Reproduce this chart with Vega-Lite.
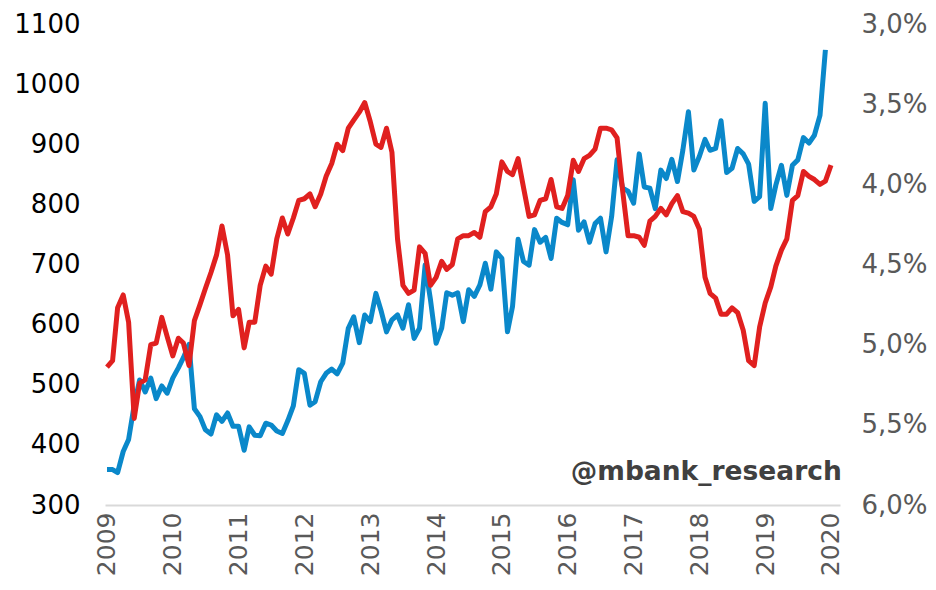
{
  "$schema": "https://vega.github.io/schema/vega-lite/v6.json",
  "autosize": "none",
  "width": 735,
  "height": 481,
  "padding": {"left": 105, "top": 24, "right": 96, "bottom": 85},
  "background": "white",
  "config": {"view": {"stroke": null}, "font": "DejaVu Sans"},
  "datasets": {
    "blue": [
      {"date": "2009-01-01", "v": 359}, {"date": "2009-02-01", "v": 359}, {"date": "2009-03-01", "v": 354}, {"date": "2009-04-01", "v": 389},
      {"date": "2009-05-01", "v": 409}, {"date": "2009-06-01", "v": 466}, {"date": "2009-07-01", "v": 508}, {"date": "2009-08-01", "v": 488},
      {"date": "2009-09-01", "v": 511}, {"date": "2009-10-01", "v": 477}, {"date": "2009-11-01", "v": 498}, {"date": "2009-12-01", "v": 486},
      {"date": "2010-01-01", "v": 511}, {"date": "2010-02-01", "v": 528}, {"date": "2010-03-01", "v": 545}, {"date": "2010-04-01", "v": 567},
      {"date": "2010-05-01", "v": 460}, {"date": "2010-06-01", "v": 447}, {"date": "2010-07-01", "v": 425}, {"date": "2010-08-01", "v": 418},
      {"date": "2010-09-01", "v": 450}, {"date": "2010-10-01", "v": 439}, {"date": "2010-11-01", "v": 453}, {"date": "2010-12-01", "v": 431},
      {"date": "2011-01-01", "v": 431}, {"date": "2011-02-01", "v": 391}, {"date": "2011-03-01", "v": 430}, {"date": "2011-04-01", "v": 416},
      {"date": "2011-05-01", "v": 415}, {"date": "2011-06-01", "v": 436}, {"date": "2011-07-01", "v": 433}, {"date": "2011-08-01", "v": 423},
      {"date": "2011-09-01", "v": 419}, {"date": "2011-10-01", "v": 440}, {"date": "2011-11-01", "v": 465}, {"date": "2011-12-01", "v": 525},
      {"date": "2012-01-01", "v": 519}, {"date": "2012-02-01", "v": 466}, {"date": "2012-03-01", "v": 472}, {"date": "2012-04-01", "v": 505},
      {"date": "2012-05-01", "v": 519}, {"date": "2012-06-01", "v": 526}, {"date": "2012-07-01", "v": 518}, {"date": "2012-08-01", "v": 536},
      {"date": "2012-09-01", "v": 594}, {"date": "2012-10-01", "v": 613}, {"date": "2012-11-01", "v": 570}, {"date": "2012-12-01", "v": 616},
      {"date": "2013-01-01", "v": 605}, {"date": "2013-02-01", "v": 652}, {"date": "2013-03-01", "v": 624}, {"date": "2013-04-01", "v": 588},
      {"date": "2013-05-01", "v": 608}, {"date": "2013-06-01", "v": 616}, {"date": "2013-07-01", "v": 594}, {"date": "2013-08-01", "v": 633},
      {"date": "2013-09-01", "v": 577}, {"date": "2013-10-01", "v": 594}, {"date": "2013-11-01", "v": 699}, {"date": "2013-12-01", "v": 641},
      {"date": "2014-01-01", "v": 569}, {"date": "2014-02-01", "v": 594}, {"date": "2014-03-01", "v": 653}, {"date": "2014-04-01", "v": 649},
      {"date": "2014-05-01", "v": 653}, {"date": "2014-06-01", "v": 605}, {"date": "2014-07-01", "v": 658}, {"date": "2014-08-01", "v": 647},
      {"date": "2014-09-01", "v": 666}, {"date": "2014-10-01", "v": 702}, {"date": "2014-11-01", "v": 659}, {"date": "2014-12-01", "v": 721},
      {"date": "2015-01-01", "v": 710}, {"date": "2015-02-01", "v": 588}, {"date": "2015-03-01", "v": 630}, {"date": "2015-04-01", "v": 742},
      {"date": "2015-05-01", "v": 705}, {"date": "2015-06-01", "v": 699}, {"date": "2015-07-01", "v": 758}, {"date": "2015-08-01", "v": 737},
      {"date": "2015-09-01", "v": 745}, {"date": "2015-10-01", "v": 710}, {"date": "2015-11-01", "v": 777}, {"date": "2015-12-01", "v": 770},
      {"date": "2016-01-01", "v": 766}, {"date": "2016-02-01", "v": 841}, {"date": "2016-03-01", "v": 757}, {"date": "2016-04-01", "v": 771},
      {"date": "2016-05-01", "v": 737}, {"date": "2016-06-01", "v": 768}, {"date": "2016-07-01", "v": 777}, {"date": "2016-08-01", "v": 721},
      {"date": "2016-09-01", "v": 780}, {"date": "2016-10-01", "v": 874}, {"date": "2016-11-01", "v": 827}, {"date": "2016-12-01", "v": 822},
      {"date": "2017-01-01", "v": 802}, {"date": "2017-02-01", "v": 884}, {"date": "2017-03-01", "v": 829}, {"date": "2017-04-01", "v": 827},
      {"date": "2017-05-01", "v": 793}, {"date": "2017-06-01", "v": 857}, {"date": "2017-07-01", "v": 843}, {"date": "2017-08-01", "v": 875},
      {"date": "2017-09-01", "v": 838}, {"date": "2017-10-01", "v": 890}, {"date": "2017-11-01", "v": 954}, {"date": "2017-12-01", "v": 857},
      {"date": "2018-01-01", "v": 880}, {"date": "2018-02-01", "v": 908}, {"date": "2018-03-01", "v": 890}, {"date": "2018-04-01", "v": 893},
      {"date": "2018-05-01", "v": 939}, {"date": "2018-06-01", "v": 853}, {"date": "2018-07-01", "v": 860}, {"date": "2018-08-01", "v": 893},
      {"date": "2018-09-01", "v": 884}, {"date": "2018-10-01", "v": 867}, {"date": "2018-11-01", "v": 805}, {"date": "2018-12-01", "v": 813},
      {"date": "2019-01-01", "v": 968}, {"date": "2019-02-01", "v": 793}, {"date": "2019-03-01", "v": 832}, {"date": "2019-04-01", "v": 865},
      {"date": "2019-05-01", "v": 815}, {"date": "2019-06-01", "v": 865}, {"date": "2019-07-01", "v": 874}, {"date": "2019-08-01", "v": 911},
      {"date": "2019-09-01", "v": 902}, {"date": "2019-10-01", "v": 915}, {"date": "2019-11-01", "v": 948}, {"date": "2019-12-01", "v": 1057}
    ],
    "red": [
      {"date": "2009-01-01", "r": 5.14}, {"date": "2009-02-01", "r": 5.10}, {"date": "2009-03-01", "r": 4.77}, {"date": "2009-04-01", "r": 4.69},
      {"date": "2009-05-01", "r": 4.86}, {"date": "2009-06-01", "r": 5.46}, {"date": "2009-07-01", "r": 5.24}, {"date": "2009-08-01", "r": 5.22},
      {"date": "2009-09-01", "r": 5.00}, {"date": "2009-10-01", "r": 4.99}, {"date": "2009-11-01", "r": 4.83}, {"date": "2009-12-01", "r": 4.95},
      {"date": "2010-01-01", "r": 5.07}, {"date": "2010-02-01", "r": 4.96}, {"date": "2010-03-01", "r": 4.99}, {"date": "2010-04-01", "r": 5.13},
      {"date": "2010-05-01", "r": 4.85}, {"date": "2010-06-01", "r": 4.75}, {"date": "2010-07-01", "r": 4.65}, {"date": "2010-08-01", "r": 4.55},
      {"date": "2010-09-01", "r": 4.44}, {"date": "2010-10-01", "r": 4.26}, {"date": "2010-11-01", "r": 4.44}, {"date": "2010-12-01", "r": 4.82},
      {"date": "2011-01-01", "r": 4.78}, {"date": "2011-02-01", "r": 5.02}, {"date": "2011-03-01", "r": 4.86}, {"date": "2011-04-01", "r": 4.86},
      {"date": "2011-05-01", "r": 4.63}, {"date": "2011-06-01", "r": 4.51}, {"date": "2011-07-01", "r": 4.56}, {"date": "2011-08-01", "r": 4.34},
      {"date": "2011-09-01", "r": 4.21}, {"date": "2011-10-01", "r": 4.31}, {"date": "2011-11-01", "r": 4.21}, {"date": "2011-12-01", "r": 4.10},
      {"date": "2012-01-01", "r": 4.09}, {"date": "2012-02-01", "r": 4.06}, {"date": "2012-03-01", "r": 4.14}, {"date": "2012-04-01", "r": 4.06},
      {"date": "2012-05-01", "r": 3.95}, {"date": "2012-06-01", "r": 3.87}, {"date": "2012-07-01", "r": 3.75}, {"date": "2012-08-01", "r": 3.79},
      {"date": "2012-09-01", "r": 3.65}, {"date": "2012-10-01", "r": 3.60}, {"date": "2012-11-01", "r": 3.55}, {"date": "2012-12-01", "r": 3.49},
      {"date": "2013-01-01", "r": 3.61}, {"date": "2013-02-01", "r": 3.75}, {"date": "2013-03-01", "r": 3.77}, {"date": "2013-04-01", "r": 3.65},
      {"date": "2013-05-01", "r": 3.80}, {"date": "2013-06-01", "r": 4.34}, {"date": "2013-07-01", "r": 4.63}, {"date": "2013-08-01", "r": 4.68},
      {"date": "2013-09-01", "r": 4.66}, {"date": "2013-10-01", "r": 4.39}, {"date": "2013-11-01", "r": 4.43}, {"date": "2013-12-01", "r": 4.63},
      {"date": "2014-01-01", "r": 4.58}, {"date": "2014-02-01", "r": 4.48}, {"date": "2014-03-01", "r": 4.53}, {"date": "2014-04-01", "r": 4.50},
      {"date": "2014-05-01", "r": 4.34}, {"date": "2014-06-01", "r": 4.32}, {"date": "2014-07-01", "r": 4.32}, {"date": "2014-08-01", "r": 4.30},
      {"date": "2014-09-01", "r": 4.33}, {"date": "2014-10-01", "r": 4.17}, {"date": "2014-11-01", "r": 4.14}, {"date": "2014-12-01", "r": 4.06},
      {"date": "2015-01-01", "r": 3.86}, {"date": "2015-02-01", "r": 3.92}, {"date": "2015-03-01", "r": 3.94}, {"date": "2015-04-01", "r": 3.84},
      {"date": "2015-05-01", "r": 4.02}, {"date": "2015-06-01", "r": 4.20}, {"date": "2015-07-01", "r": 4.19}, {"date": "2015-08-01", "r": 4.10},
      {"date": "2015-09-01", "r": 4.09}, {"date": "2015-10-01", "r": 3.97}, {"date": "2015-11-01", "r": 4.14}, {"date": "2015-12-01", "r": 4.15},
      {"date": "2016-01-01", "r": 4.07}, {"date": "2016-02-01", "r": 3.85}, {"date": "2016-03-01", "r": 3.92}, {"date": "2016-04-01", "r": 3.84},
      {"date": "2016-05-01", "r": 3.82}, {"date": "2016-06-01", "r": 3.78}, {"date": "2016-07-01", "r": 3.65}, {"date": "2016-08-01", "r": 3.65},
      {"date": "2016-09-01", "r": 3.66}, {"date": "2016-10-01", "r": 3.71}, {"date": "2016-11-01", "r": 4.04}, {"date": "2016-12-01", "r": 4.32},
      {"date": "2017-01-01", "r": 4.32}, {"date": "2017-02-01", "r": 4.33}, {"date": "2017-03-01", "r": 4.38}, {"date": "2017-04-01", "r": 4.23},
      {"date": "2017-05-01", "r": 4.20}, {"date": "2017-06-01", "r": 4.15}, {"date": "2017-07-01", "r": 4.19}, {"date": "2017-08-01", "r": 4.12},
      {"date": "2017-09-01", "r": 4.07}, {"date": "2017-10-01", "r": 4.17}, {"date": "2017-11-01", "r": 4.18}, {"date": "2017-12-01", "r": 4.20},
      {"date": "2018-01-01", "r": 4.28}, {"date": "2018-02-01", "r": 4.58}, {"date": "2018-03-01", "r": 4.68}, {"date": "2018-04-01", "r": 4.71},
      {"date": "2018-05-01", "r": 4.81}, {"date": "2018-06-01", "r": 4.81}, {"date": "2018-07-01", "r": 4.77}, {"date": "2018-08-01", "r": 4.80},
      {"date": "2018-09-01", "r": 4.91}, {"date": "2018-10-01", "r": 5.10}, {"date": "2018-11-01", "r": 5.13}, {"date": "2018-12-01", "r": 4.89},
      {"date": "2019-01-01", "r": 4.74}, {"date": "2019-02-01", "r": 4.64}, {"date": "2019-03-01", "r": 4.51}, {"date": "2019-04-01", "r": 4.41},
      {"date": "2019-05-01", "r": 4.34}, {"date": "2019-06-01", "r": 4.10}, {"date": "2019-07-01", "r": 4.07}, {"date": "2019-08-01", "r": 3.92},
      {"date": "2019-09-01", "r": 3.95}, {"date": "2019-10-01", "r": 3.97}, {"date": "2019-11-01", "r": 4.00}, {"date": "2019-12-01", "r": 3.98},
      {"date": "2020-01-01", "r": 3.88}
    ],
    "note": [{"label": "@mbank_research", "date": "2020-03-01", "v": 355}]
  },
  "layer": [
    {
      "data": {"name": "blue"},
      "mark": {"type": "line", "color": "#0A88CA", "strokeWidth": 5, "strokeJoin": "round"},
      "encoding": {
        "x": {
          "field": "date", "type": "temporal",
          "scale": {"type": "utc", "domain": [{"year": 2008, "month": 12, "date": 21, "utc": true}, {"year": 2020, "month": 2, "date": 20, "utc": true}]},
          "axis": {
            "title": null, "grid": false, "ticks": false,
            "domainColor": "#d9d9d9", "domainWidth": 2,
            "values": [
              {"year": 2009, "month": 1, "date": 1, "utc": true}, {"year": 2010, "month": 1, "date": 1, "utc": true},
              {"year": 2011, "month": 1, "date": 1, "utc": true}, {"year": 2012, "month": 1, "date": 1, "utc": true},
              {"year": 2013, "month": 1, "date": 1, "utc": true}, {"year": 2014, "month": 1, "date": 1, "utc": true},
              {"year": 2015, "month": 1, "date": 1, "utc": true}, {"year": 2016, "month": 1, "date": 1, "utc": true},
              {"year": 2017, "month": 1, "date": 1, "utc": true}, {"year": 2018, "month": 1, "date": 1, "utc": true},
              {"year": 2019, "month": 1, "date": 1, "utc": true}, {"year": 2020, "month": 1, "date": 1, "utc": true}
            ],
            "format": "%Y", "formatType": "utc",
            "labelAngle": -90, "labelFontSize": 25, "labelColor": "#595959", "labelPadding": 7,
            "labelFont": "DejaVu Sans", "labelOverlap": false
          }
        },
        "y": {
          "field": "v", "type": "quantitative",
          "scale": {"domain": [300, 1100], "nice": false, "zero": false},
          "axis": {
            "title": null, "grid": false, "ticks": false, "domain": false,
            "values": [300, 400, 500, 600, 700, 800, 900, 1000, 1100],
            "format": "d",
            "labelFontSize": 26, "labelColor": "#000000", "labelPadding": 25, "labelFont": "DejaVu Sans"
          }
        }
      }
    },
    {
      "data": {"name": "red"},
      "mark": {"type": "line", "color": "#E0201F", "strokeWidth": 5, "strokeJoin": "round"},
      "encoding": {
        "x": {"field": "date", "type": "temporal"},
        "y": {
          "field": "r", "type": "quantitative",
          "scale": {"domain": [3, 6], "reverse": true, "nice": false, "zero": false},
          "axis": {
            "orient": "right", "title": null, "grid": false, "ticks": false, "domain": false,
            "values": [3, 3.5, 4, 4.5, 5, 5.5, 6],
            "labelExpr": "replace(format(datum.value, '.1f'), '.', ',') + '%'",
            "labelFontSize": 26, "labelColor": "#595959", "labelPadding": 21, "labelFont": "DejaVu Sans"
          }
        }
      }
    },
    {
      "data": {"name": "note"},
      "mark": {"type": "text", "align": "right", "baseline": "middle", "font": "DejaVu Sans", "fontWeight": "bold", "fontSize": 26.5, "color": "#404040"},
      "encoding": {
        "text": {"field": "label", "type": "nominal"},
        "x": {"field": "date", "type": "temporal"},
        "y": {"field": "v", "type": "quantitative", "scale": {"domain": [300, 1100], "nice": false, "zero": false}, "axis": null}
      }
    }
  ],
  "resolve": {"scale": {"y": "independent"}}
}
